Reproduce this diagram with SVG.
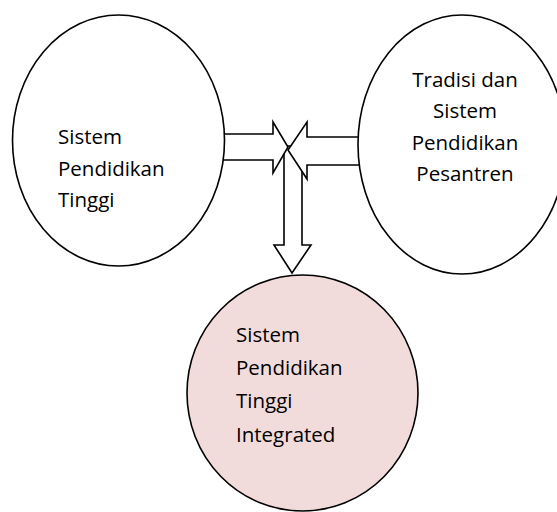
<svg xmlns="http://www.w3.org/2000/svg" width="557" height="512" viewBox="0 0 557 512">
  <style>
    .node { stroke: #000; stroke-width: 1.6; fill: #fff; }
    .node.result { fill: #f2dcdb; }
    .arrow { stroke: #000; stroke-width: 1.6; fill: #fff; stroke-linejoin: miter; }
    .label { font-family: "Open Sans", Lato, "Liberation Sans", sans-serif; font-size: 20.5px; fill: #000; }
  </style>

  <rect width="557" height="512" fill="#fff"/>

  <!-- block arrows: both systems flow down into the integrated one -->
  <g id="connectors">
    <polygon class="arrow" points="284,146 302,146 302,245 311,245 292,273 274,245 284,245"/>
    <polygon class="arrow" points="222,134 273,134 273,122 288,147 273,173 273,160 222,160"/>
    <polygon class="arrow" points="362,137 307,137 307,122 288,150 307,179 307,165 362,165"/>
  </g>

  <g id="pendidikan-tinggi">
    <ellipse class="node" cx="118.5" cy="140.5" rx="106" ry="125.5"/>
    <text class="label" x="58" y="144">Sistem</text>
    <text class="label" x="58" y="176">Pendidikan</text>
    <text class="label" x="58" y="207">Tinggi</text>
  </g>

  <g id="pesantren">
    <ellipse class="node" cx="462" cy="144.5" rx="104" ry="129.5"/>
    <g text-anchor="middle">
      <text class="label" x="465" y="87">Tradisi dan</text>
      <text class="label" x="465" y="118">Sistem</text>
      <text class="label" x="465" y="150">Pendidikan</text>
      <text class="label" x="465" y="181">Pesantren</text>
    </g>
  </g>

  <g id="integrated">
    <ellipse class="node result" cx="302.5" cy="393" rx="115.5" ry="118"/>
    <text class="label" x="236" y="342">Sistem</text>
    <text class="label" x="236" y="375">Pendidikan</text>
    <text class="label" x="236" y="408">Tinggi</text>
    <text class="label" x="236" y="442">Integrated</text>
  </g>
</svg>
